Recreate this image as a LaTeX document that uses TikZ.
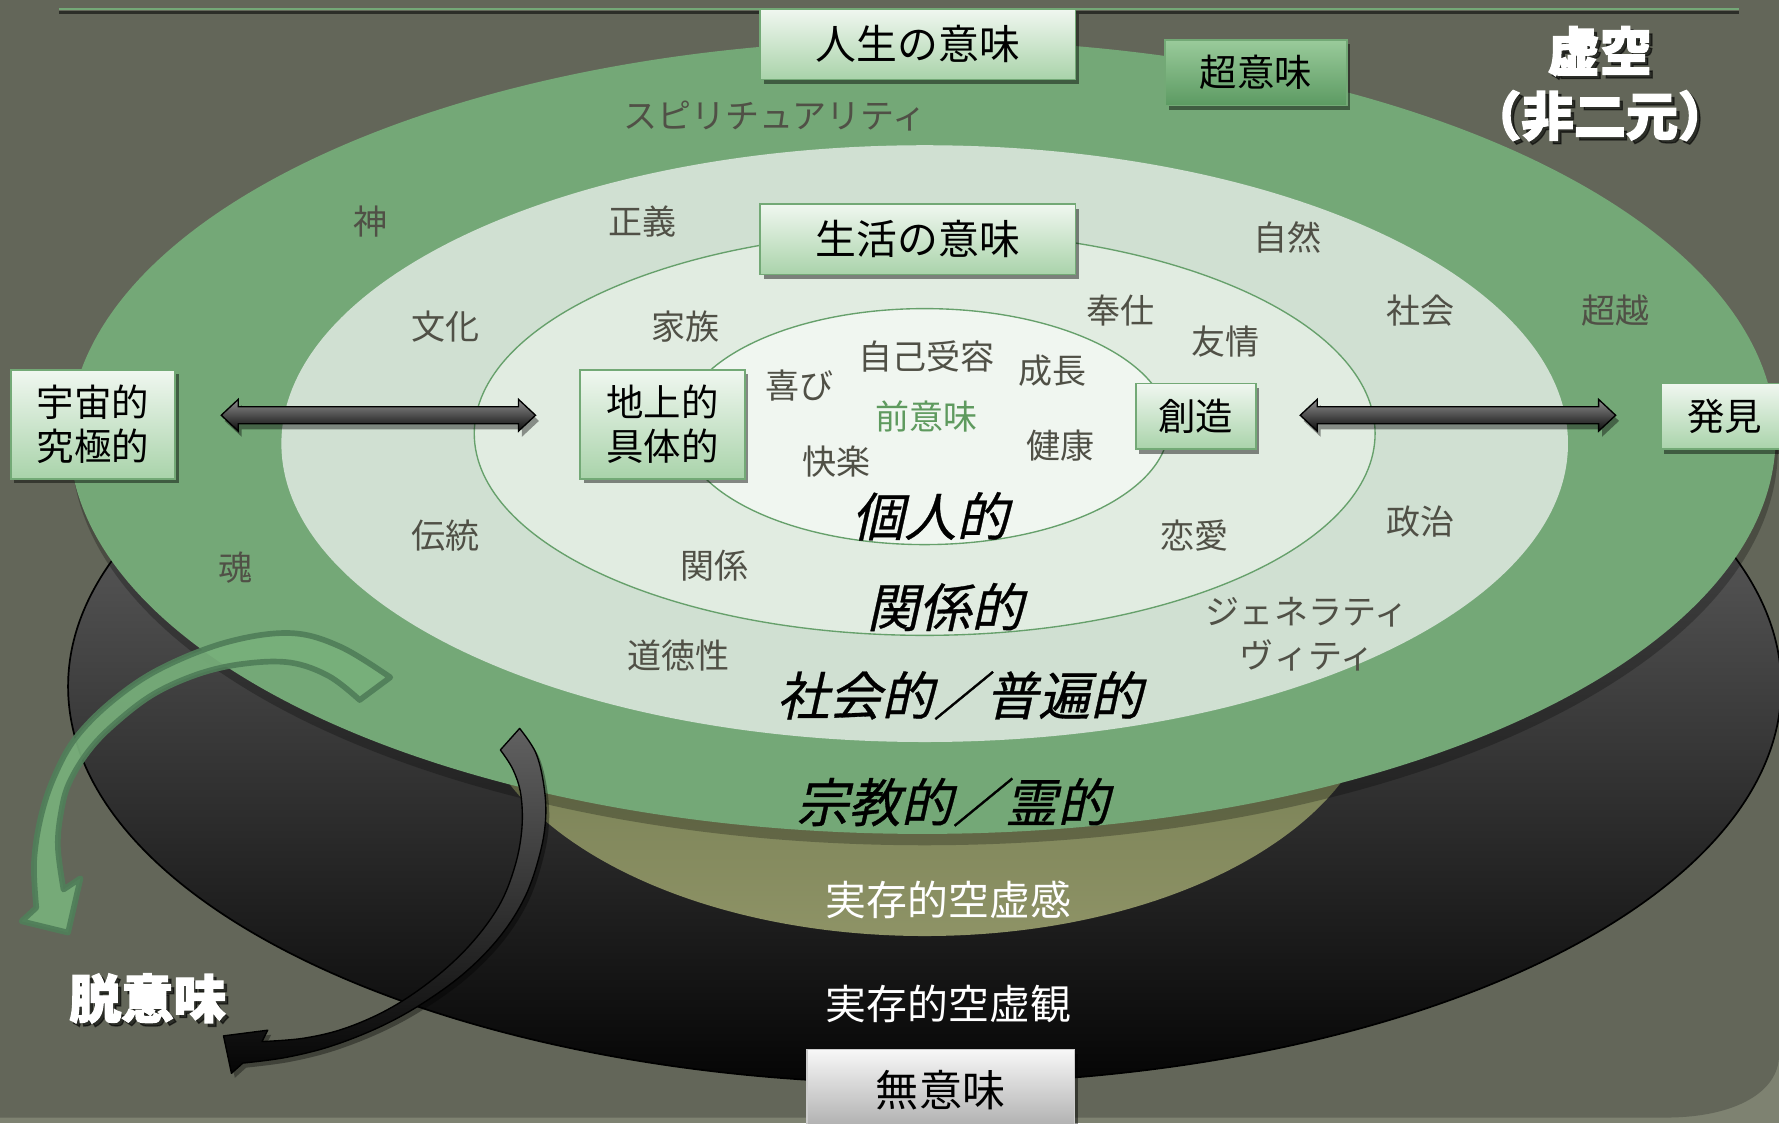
\documentclass[tikz,border=0pt]{standalone}
\usepackage{fontspec}
\usetikzlibrary{shadows,calc}
\newfontfamily\jp{Noto Sans CJK JP}
\newfontfamily\jpit[FakeSlant=0.22, FakeBold=0.6]{Noto Sans CJK JP}
\newfontfamily\jpheavy[BoldFeatures={FakeBold=2.5}]{Noto Sans CJK JP}
\definecolor{bg}{HTML}{636659}
\definecolor{bgedge}{HTML}{7E8271}
\definecolor{ring0}{HTML}{74A877}
\definecolor{ring1}{HTML}{D0E0D2}
\definecolor{ring2}{HTML}{E1ECE1}
\definecolor{ring3}{HTML}{F0F6F0}
\definecolor{ringline}{HTML}{66A06B}
\definecolor{lbl}{HTML}{505046}
\definecolor{boxtop}{HTML}{F0F7F0}
\definecolor{boxbot}{HTML}{A9D3AA}
\definecolor{boxedge}{HTML}{73A976}
\definecolor{chotop}{HTML}{9ACB9B}
\definecolor{chobot}{HTML}{5C9A62}
\definecolor{prem}{HTML}{5E9A5E}
\definecolor{olivetop}{HTML}{56613A}
\definecolor{olivebot}{HTML}{8E9366}
\definecolor{garrfill}{HTML}{78B07B}
\definecolor{garredge}{HTML}{507E59}
\tikzset{
  lab/.style={font=\jp\fontsize{30}{34}\selectfont, text=lbl, inner sep=0pt},
  lvl/.style={font=\jpit\fontsize{46}{50}\selectfont, text=black, inner sep=0pt},
  wht/.style={font=\jp\fontsize{36}{40}\selectfont, text=white, inner sep=0pt},
  hvy/.style={font=\jpheavy\bfseries\fontsize{46}{50}\selectfont, text=white, inner sep=0pt},
  hvyshadow/.style={font=\jpheavy\bfseries\fontsize{46}{50}\selectfont, text=black, opacity=0.55, inner sep=0pt},
  mbox/.style={draw=boxedge, line width=1.5pt, top color=boxtop, bottom color=boxbot,
     text=black, inner sep=0pt, align=center, font=\jp\fontsize{33}{39}\selectfont,
     drop shadow={shadow xshift=3pt, shadow yshift=-4pt, opacity=0.45, fill=black}},
  chobox/.style={mbox, top color=chotop, bottom color=chobot},
  grbox/.style={mbox, draw=gray!40, top color=gray!6, bottom color=gray!65, font=\jp\fontsize{38}{42}\selectfont},
  dblarr/.style={draw=black, line width=1.2pt, top color=black!45, bottom color=black!95,
     drop shadow={shadow xshift=3pt, shadow yshift=-5pt, opacity=0.4, fill=black}},
}
\newcommand\dblarrow[2]{%
  \path[dblarr] (#1) -- ($(#1)+(15,-14)$) -- ($(#1)+(15,-7.5)$) -- ($(#2)+(-15,-7.5)$)
   -- ($(#2)+(-15,-14)$) -- (#2) -- ($(#2)+(-15,14)$) -- ($(#2)+(-15,7.5)$)
   -- ($(#1)+(15,7.5)$) -- ($(#1)+(15,14)$) -- cycle;}
\begin{document}
\begin{tikzpicture}[x=1pt,y=-1pt]
\useasboundingbox (0,0) rectangle (1568,990);
% background
\fill[bgedge] (0,0) rectangle (1568,990);
\fill[bg] (0,0) -- (1568,0) -- (1568,930) .. controls (1568,962) and (1530,985) .. (1468,985) -- (0,985) -- cycle;
% top rule
\draw[black, opacity=0.55, line width=2.5pt] (52,11) -- (1533,11);
\draw[ring0, line width=2pt] (52,8) -- (1533,8);
% black disc
\shade[top color=black!52, bottom color=black!98] (815,605) ellipse [x radius=755pt, y radius=350pt];
\draw[black, line width=1.5pt] (815,605) ellipse [x radius=755pt, y radius=350pt];
% olive disc
\shade[top color=olivetop, bottom color=olivebot] (815,600) ellipse [x radius=400pt, y radius=225pt];
% green disc and rings
\fill[black, opacity=0.25] (815,395) ellipse [x radius=752pt, y radius=350pt];
\fill[ring0] (813,385) ellipse [x radius=752pt, y radius=350pt];
\fill[ring1] (815,391) ellipse [x radius=567pt, y radius=263pt];
\filldraw[fill=ring2, draw=ringline, line width=1.2pt] (815,382) ellipse [x radius=397pt, y radius=178pt];
\filldraw[fill=ring3, draw=ringline, line width=1.2pt] (815,376) ellipse [x radius=215pt, y radius=104pt];

% labels
\node[lab] (spi) at (683,102) {スピリチュアリティ};
\node[lab] (kami) at (327,195) {神};
\node[lab] (seigi) at (566,195) {正義};
\node[lab] (shizen) at (1135,209) {自然};
\node[lab] (bunka) at (393,288) {文化};
\node[lab] (kazoku) at (604,288) {家族};
\node[lab] (houshi) at (988,274) {奉仕};
\node[lab] (shakai) at (1252,274) {社会};
\node[lab] (choetsu) at (1424,274) {超越};
\node[lab] (yujo) at (1080,301) {友情};
\node[lab] (jiko) at (817,314) {自己受容};
\node[lab] (yoroko) at (705,340) {喜び};
\node[lab] (seicho) at (928,327) {成長};
\node[lab, text=prem] (zenimi) at (817,367) {前意味};
\node[lab] (kairaku) at (737,407) {快楽};
\node[lab] (kenko) at (935,393) {健康};
\node[lab] (dento) at (393,472) {伝統};
\node[lab] (tamashii) at (208,500) {魂};
\node[lab] (kankei) at (630,499) {関係};
\node[lab] (renai) at (1053,472) {恋愛};
\node[lab] (seiji) at (1252,460) {政治};
\node[lab] (gene1) at (1152,540) {ジェネラティ};
\node[lab] (gene2) at (1152,578) {ヴィティ};
\node[lab] (dotoku) at (598,578) {道徳性};

\node[lvl] (kojin) at (820,455) {個人的};
\node[lvl] (kankeiteki) at (833,535) {関係的};
\node[lvl] (fuhen) at (846,613) {社会的／普遍的};
\node[lvl] (rei) at (840,707) {宗教的／霊的};

\node[wht] (kukyokan) at (836,793) {実存的空虚感};
\node[wht] (kukyokan2) at (836,885) {実存的空虚観};

\node[hvyshadow] (kokush) at (1413,48) {虚空};
\node[hvy] (koku) at (1410,45) {虚空};
\node[hvyshadow] (hinish) at (1413,105) {（非二元）};
\node[hvy] (hini) at (1410,102) {（非二元）};
\node[hvyshadow] (datsush) at (133,883) {脱意味};
\node[hvy] (datsu) at (130,880) {脱意味};

% boxes
\node[mbox, minimum width=278pt, minimum height=62pt, font=\jp\fontsize{36}{40}\selectfont] (jinsei) at (809,39) {人生の意味};
\node[chobox, minimum width=160pt, minimum height=58pt] (choimi) at (1107,64) {超意味};
\node[mbox, minimum width=278pt, minimum height=62pt, font=\jp\fontsize{36}{40}\selectfont] (seikatsu) at (809,211) {生活の意味};
\node[mbox, minimum width=145pt, minimum height=96pt] (uchu) at (82,374) {宇宙的\\究極的};
\node[mbox, minimum width=145pt, minimum height=96pt] (chijo) at (584,374) {地上的\\具体的};
\node[mbox, minimum width=106pt, minimum height=58pt] (sozo) at (1054,367) {創造};
\node[mbox, minimum width=112pt, minimum height=58pt] (hakken) at (1520,367) {発見};
\node[grbox, minimum width=236pt, minimum height=72pt] (muimi) at (829,961) {無意味};

% double arrows
\coordinate (la) at (195,366);
\coordinate (lb) at (472,366);
\coordinate (ra) at (1146,366);
\coordinate (rb) at (1424,366);
\dblarrow{la}{lb}
\dblarrow{ra}{rb}

% green curved arrow
\filldraw[fill=garrfill, draw=garredge, line width=5pt, line join=round, opacity=0.92]
  plot[smooth, tension=0.6] coordinates {(344,597) (300,570) (256,558) (200,566) (142,589) (100,617) (67,650) (48,684) (36,720) (30,760) (32,800)}
  -- (19,812) -- (60,822) -- (71,774)
  -- plot[smooth, tension=0.6] coordinates {(56,784) (51,746) (54,715) (61,690) (78,662) (101,638) (135,612) (175,594) (215,585) (256,584) (290,596) (317,617)}
  -- cycle;

% dark curved arrow
\path[top color=black!62, bottom color=black!98, draw=black, line width=1.2pt, line join=round,
      drop shadow={shadow xshift=3pt, shadow yshift=-4pt, opacity=0.35, fill=black}]
  plot[smooth, tension=0.6] coordinates {(458,642) (472,663) (479,690) (481,720) (476,752) (463,790) (441,825) (410,857) (373,884) (335,905) (292,922) (252,932) (214,937)}
  -- (204,946) -- (197,913) -- (236,908) -- (231,918)
  -- plot[smooth, tension=0.6] coordinates {(231,918) (268,915) (305,906) (345,888) (383,862) (415,832) (440,798) (454,763) (460,730) (459,700) (452,678) (441,661)}
  -- cycle;
\end{tikzpicture}
\end{document}
